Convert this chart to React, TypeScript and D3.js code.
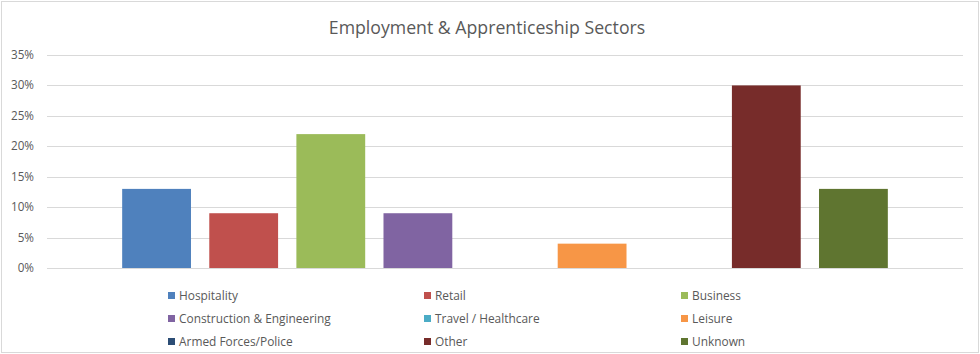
import React from "react";
import * as d3 from "d3";

const seriesNames = [
  "Hospitality",
  "Retail",
  "Business",
  "Construction & Engineering",
  "Travel / Healthcare",
  "Leisure",
  "Armed Forces/Police",
  "Other",
  "Unknown",
];
const seriesValues = [0.13, 0.09, 0.22, 0.09, 0, 0.04, 0, 0.3, 0.13];
const seriesColors = [
  "#4f81bd",
  "#c0504d",
  "#9bbb59",
  "#8064a2",
  "#4bacc6",
  "#f79646",
  "#2c4d75",
  "#772c2a",
  "#5f7530",
];
const yTicks = [0, 0.05, 0.1, 0.15, 0.2, 0.25, 0.3, 0.35];
const title = "Employment & Apprenticeship Sectors";

const W = 980;
const H = 354;
const FONT = "'Open Sans', 'Liberation Sans', sans-serif";
const TEXT = "#595959";

export default function App() {
  const x = d3
    .scaleBand<string>()
    .domain(seriesNames)
    .range([47, 963])
    .paddingInner(0.21)
    .paddingOuter(0.863);
  const y = d3.scaleLinear().domain([0, 0.35]).range([268, 55]);
  const fmt = d3.format(".0%");

  const legendCols = [168, 424, 681];
  const legendRows = [296, 319, 342];

  return (
    <div style={{ position: "fixed", left: 0, top: 0 }}>
      <svg width={W} height={H} style={{ display: "block" }}>
        <rect x={0} y={0} width={W} height={H} fill="#fff" />
        <rect
          x={1.5}
          y={1.5}
          width={W - 3}
          height={H - 3}
          fill="none"
          stroke="#d9d9d9"
          strokeWidth={1}
        />
        <text
          x={487}
          y={34}
          textAnchor="middle"
          fontFamily={FONT}
          fontSize={17.7}
          fill={TEXT}
        >
          {title}
        </text>
        {yTicks.map((t) => (
          <g key={t}>
            <line
              x1={47}
              x2={963}
              y1={Math.round(y(t)) + 0.5}
              y2={Math.round(y(t)) + 0.5}
              stroke="#d9d9d9"
              strokeWidth={1}
            />
            <text
              x={34}
              y={y(t) + 4}
              textAnchor="end"
              fontFamily={FONT}
              fontSize={11.7}
              fill={TEXT}
            >
              {fmt(t)}
            </text>
          </g>
        ))}
        {seriesNames.map((s, i) => (
          <rect
            key={s}
            x={x(s)}
            y={y(seriesValues[i])}
            width={x.bandwidth()}
            height={y(0) - y(seriesValues[i])}
            fill={seriesColors[i]}
          />
        ))}
        {seriesNames.map((s, i) => {
          const cx = legendCols[i % 3];
          const cy = legendRows[Math.floor(i / 3)];
          return (
            <g key={"lg" + s}>
              <rect x={cx} y={cy - 4} width={7} height={7} fill={seriesColors[i]} />
              <text
                x={cx + 11}
                y={cy + 4}
                fontFamily={FONT}
                fontSize={11.9}
                fill={TEXT}
              >
                {s}
              </text>
            </g>
          );
        })}
      </svg>
    </div>
  );
}
